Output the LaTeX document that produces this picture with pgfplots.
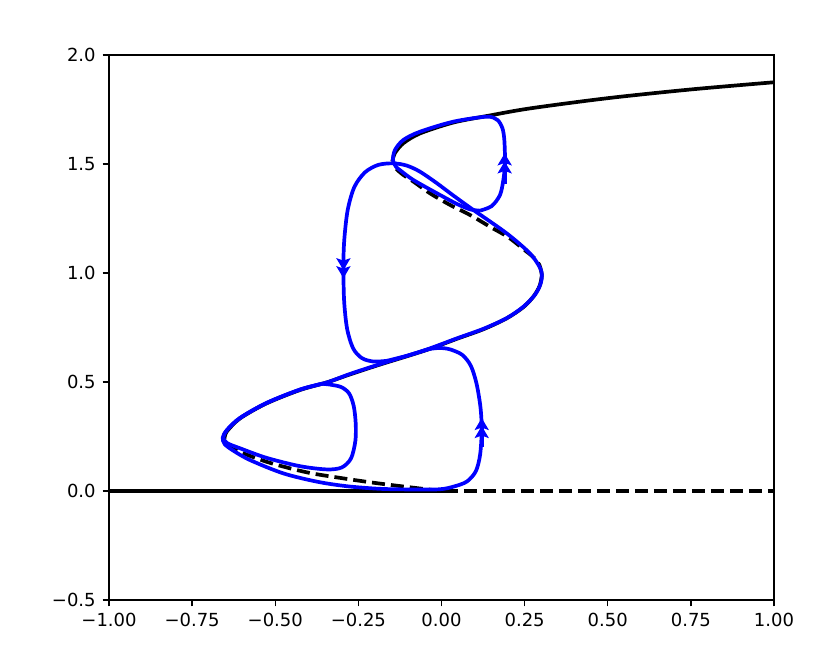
\documentclass[border=0pt]{standalone}
\usepackage{fontspec}
\setmainfont{DejaVu Sans}
\usepackage{pgfplots}
\pgfplotsset{compat=1.18}
\usetikzlibrary{arrows.meta}
\tikzset{dblarrow/.style={-{Stealth[length=6pt,width=7pt,inset=1.2pt,sep=-2pt]Stealth[length=6pt,width=7pt,inset=1.2pt]}}}
\begin{document}
\begin{tikzpicture}
\begin{axis}[
  scale only axis, width=332.5pt, height=272.5pt,
  xmin=-1, xmax=1, ymin=-0.5, ymax=2,
  xtick={-1,-0.75,-0.5,-0.25,0,0.25,0.5,0.75,1},
  xticklabels={−1.00,−0.75,−0.50,−0.25,0.00,0.25,0.50,0.75,1.00},
  ytick={-0.5,0,0.5,1,1.5,2},
  yticklabels={−0.5,0.0,0.5,1.0,1.5,2.0},
  xtick pos=bottom, ytick pos=left,
  tick align=outside, major tick length=3.15pt,
  tick style={line width=0.7pt, black},
  axis line style={line width=0.7pt},
  ticklabel style={font=\fontsize{9}{10.8}\selectfont},
  clip=true,
]
% trivial branch
\addplot[black, line width=1.85pt] coordinates {(-1,0) (0.01,0)};
\addplot[black, line width=1.85pt, dash pattern=on 6.5pt off 3pt] coordinates {(0.01,0) (1,0)};
% lower unstable branch
\addplot[black, line width=1.85pt, dash pattern=on 6.5pt off 3pt, smooth] coordinates {
(0,0) (-0.1,0.018) (-0.2,0.037) (-0.3,0.059) (-0.4,0.084) (-0.5,0.122) (-0.56,0.152) (-0.6,0.176) (-0.63,0.2) (-0.648,0.22) (-0.653,0.237)};
% middle stable branch
\addplot[black, line width=1.85pt, smooth] coordinates {
(-0.653,0.237) (-0.646,0.272) (-0.606,0.333) (-0.526,0.402) (-0.426,0.463) (-0.345,0.498) (-0.275,0.535) (-0.185,0.580) (-0.1,0.62) (-0.035,0.652) (0.046,0.698) (0.126,0.742) (0.196,0.792) (0.246,0.843) (0.276,0.891) (0.295,0.94) (0.302,0.99)};
% upper-middle unstable branch
\addplot[black, line width=1.85pt, dash pattern=on 6.5pt off 3pt, smooth] coordinates {
(0.302,0.99) (0.295,1.035) (0.278,1.07) (0.256,1.098) (0.201,1.164) (0.146,1.212) (0.086,1.266) (0.026,1.312) (-0.035,1.366) (-0.085,1.42) (-0.115,1.450) (-0.137,1.48) (-0.148,1.512)};
% upper stable branch
\addplot[black, line width=1.85pt, smooth] coordinates {
(-0.148,1.512) (-0.14,1.55) (-0.115,1.595) (-0.065,1.64) (0.035,1.69) (0.136,1.72) (0.266,1.755) (0.5,1.802) (0.75,1.842) (1.0,1.875)};

% trajectories
\addplot[blue, line width=1.85pt, smooth] coordinates {
(-0.035,0.652) (-0.10,0.622) (-0.185,0.582) (-0.275,0.537) (-0.345,0.498) (-0.426,0.465) (-0.526,0.404) (-0.606,0.335) (-0.645,0.280) (-0.658,0.245) (-0.652,0.215) (-0.626,0.185) (-0.576,0.142) (-0.476,0.081) (-0.375,0.043) (-0.285,0.022) (-0.185,0.010) (-0.085,0.007) (-0.005,0.008) (0.036,0.020) (0.076,0.043) (0.103,0.090) (0.116,0.165) (0.121,0.28) (0.117,0.387) (0.105,0.495) (0.088,0.575) (0.062,0.625) (0.025,0.650) (-0.005,0.656) (-0.035,0.652)};
\addplot[blue, line width=1.85pt, smooth] coordinates {
(-0.36,0.492) (-0.426,0.465) (-0.526,0.404) (-0.606,0.335) (-0.645,0.280) (-0.656,0.245) (-0.645,0.22) (-0.606,0.196) (-0.526,0.152) (-0.426,0.114) (-0.345,0.099) (-0.300,0.108) (-0.272,0.150) (-0.259,0.230) (-0.258,0.31) (-0.264,0.39) (-0.278,0.448) (-0.302,0.477) (-0.335,0.488) (-0.36,0.492)};
\addplot[blue, line width=1.85pt, smooth] coordinates {
(-0.165,0.597) (-0.1,0.622) (-0.035,0.654) (0.046,0.700) (0.126,0.744) (0.196,0.793) (0.246,0.845) (0.281,0.90) (0.298,0.95) (0.302,0.99) (0.296,1.025) (0.266,1.090) (0.196,1.182) (0.096,1.289) (0.035,1.356) (-0.014,1.412) (-0.065,1.465) (-0.105,1.493) (-0.145,1.503) (-0.190,1.496) (-0.230,1.462) (-0.262,1.395) (-0.282,1.290) (-0.292,1.160) (-0.295,1.044) (-0.293,0.876) (-0.284,0.745) (-0.266,0.655) (-0.240,0.610) (-0.205,0.594) (-0.165,0.597)};
\addplot[blue, line width=1.85pt, smooth] coordinates {
(0.116,1.286) (0.151,1.307) (0.176,1.358) (0.186,1.427) (0.191,1.503) (0.189,1.610) (0.183,1.665) (0.168,1.702) (0.136,1.717) (0.035,1.694) (-0.065,1.648) (-0.115,1.610) (-0.140,1.564) (-0.146,1.518) (-0.137,1.488) (-0.125,1.472) (-0.085,1.427) (-0.014,1.366) (0.046,1.317) (0.086,1.292) (0.116,1.286)};
% arrows
\addplot[blue, line width=1.85pt, dblarrow] coordinates {(0.121,0.20) (0.121,0.335)};
\addplot[blue, line width=1.85pt, dblarrow] coordinates {(-0.295,1.12) (-0.295,0.976)};
\addplot[blue, line width=1.85pt, dblarrow] coordinates {(0.190,1.41) (0.190,1.549)};
\end{axis}
\path[use as bounding box] (-54.5pt,-27.5pt) rectangle (360.5pt,300pt);
\end{tikzpicture}
\end{document}
